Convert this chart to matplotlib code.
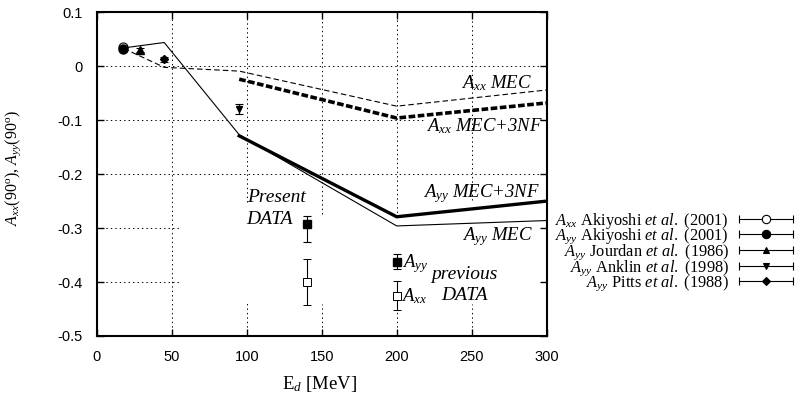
import matplotlib
matplotlib.use("Agg")
import matplotlib.pyplot as plt
from matplotlib.lines import Line2D
from matplotlib.legend_handler import HandlerBase

plt.rcParams['axes.unicode_minus'] = False
plt.rcParams['mathtext.fontset'] = 'custom'
plt.rcParams['mathtext.rm'] = 'Liberation Serif'
plt.rcParams['mathtext.it'] = 'Liberation Serif:italic'
plt.rcParams['mathtext.bf'] = 'Liberation Serif:bold'
plt.rcParams['lines.scale_dashes'] = False

# ---------------- data ----------------
e_mec = [18, 45, 95, 200, 300]
axx_mec = [0.033, -0.002, -0.009, -0.074, -0.044]
ayy_mec = [0.034, 0.044, -0.127, -0.296, -0.286]

e_3nf = [95, 200, 300]
axx_3nf = [-0.024, -0.096, -0.068]
ayy_3nf = [-0.129, -0.279, -0.250]

# present data (E_d = 140 MeV)
present_e = [140]
present_ayy = [-0.292]
present_ayy_err_lo = [0.033]
present_ayy_err_hi = [0.015]
present_axx = [-0.400]
present_axx_err = [0.043]

# previous data (E_d = 200 MeV)
previous_e = [200]
previous_ayy = [-0.362]
previous_ayy_err = [0.014]
previous_axx = [-0.425]
previous_axx_err = [0.027]

# low-energy data
akiyoshi_axx_e = [17.5]
akiyoshi_axx = [0.035]
akiyoshi_axx_err = [0.003]
akiyoshi_ayy_e = [17.5]
akiyoshi_ayy = [0.032]
akiyoshi_ayy_err = [0.003]
jourdan_e = [29]
jourdan_ayy = [0.030]
jourdan_err = [0.003]
anklin_e = [95]
anklin_ayy = [-0.079]
anklin_err = [0.009]
pitts_e = [45]
pitts_ayy = [0.013]
pitts_err = [0.005]

legend_labels = [
    r'$A_{xx}$ Akiyoshi $et\ al.$ (2001)',
    r'$A_{yy}$ Akiyoshi $et\ al.$ (2001)',
    r'$A_{yy}$ Jourdan $et\ al.$ (1986)',
    r'$A_{yy}$ Anklin $et\ al.$ (1998)',
    r'$A_{yy}$ Pitts $et\ al.$ (1988)',
]

x_ticks = [0, 50, 100, 150, 200, 250, 300]
y_ticks = [0.1, 0, -0.1, -0.2, -0.3, -0.4, -0.5]

# ---------------- figure ----------------
fig = plt.figure(figsize=(7.96, 3.98), dpi=100)
ax = fig.add_axes([0.1215, 0.1558, 0.5653, 0.8133])
ax.set_xlim(0, 300)
ax.set_ylim(-0.5, 0.1)

# partial dotted grid (as in the reference, hidden behind annotations)
gkw = dict(color='black', lw=0.7, linestyle=(0, (1, 2.2)), zorder=0.5)
ax.vlines(50, -0.5, 0.1, **gkw)
ax.vlines(100, -0.251, 0.1, **gkw)
ax.vlines(100, -0.5, -0.437, **gkw)
ax.vlines(150, -0.273, 0.1, **gkw)
ax.vlines(150, -0.5, -0.440, **gkw)
ax.vlines(200, -0.279, 0.1, **gkw)
ax.vlines(200, -0.5, -0.453, **gkw)
ax.vlines(250, -0.248, 0.1, **gkw)
ax.vlines(250, -0.5, -0.440, **gkw)
ax.hlines(0, 0, 300, **gkw)
ax.hlines(-0.1, 0, 219, **gkw)
ax.hlines(-0.2, 0, 300, **gkw)
ax.hlines(-0.3, 0, 55, **gkw)
ax.hlines(-0.4, 0, 55, **gkw)

# theory curves
ax.plot(e_mec, axx_mec, color='black', lw=0.8, dashes=(4.0, 2.2))
ax.plot(e_3nf, axx_3nf, color='black', lw=2.6, dashes=(4.8, 1.8))
ax.plot(e_mec, ayy_mec, color='black', lw=0.8)
ax.plot(e_3nf, ayy_3nf, color='black', lw=2.4)

ekw = dict(color='black', ecolor='black', elinewidth=0.8, capsize=3.2,
           capthick=0.8, linestyle='none', zorder=3)

ax.errorbar(present_e, present_ayy, yerr=[present_ayy_err_lo, present_ayy_err_hi],
            marker='s', ms=6.2, mfc='black', mec='black', **ekw)
ax.errorbar(present_e, present_axx, yerr=present_axx_err,
            marker='s', ms=6.0, mfc='white', mec='black', mew=0.7, **ekw)
ax.errorbar(previous_e, previous_ayy, yerr=previous_ayy_err,
            marker='s', ms=6.2, mfc='black', mec='black', **ekw)
ax.errorbar(previous_e, previous_axx, yerr=previous_axx_err,
            marker='s', ms=6.0, mfc='white', mec='black', mew=0.7, **ekw)

ax.errorbar(akiyoshi_axx_e, akiyoshi_axx, yerr=akiyoshi_axx_err,
            marker='o', ms=6.5, mfc='white', mec='black', mew=0.8, **ekw)
ax.errorbar(akiyoshi_ayy_e, akiyoshi_ayy, yerr=akiyoshi_ayy_err,
            marker='o', ms=6.5, mfc='black', mec='black', **ekw)
ax.errorbar(jourdan_e, jourdan_ayy, yerr=jourdan_err,
            marker='^', ms=5.5, mfc='black', mec='black', **ekw)
ax.errorbar(anklin_e, anklin_ayy, yerr=anklin_err,
            marker='v', ms=5.0, mfc='black', mec='black', **ekw)
ax.errorbar(pitts_e, pitts_ayy, yerr=pitts_err,
            marker='D', ms=4.5, mfc='black', mec='black', **ekw)

# annotations
serif = 'Liberation Serif'
tkw = dict(family=serif, style='italic', va='baseline')
ax.text(290, -0.041, r'$A_{xx}$ MEC', ha='right', fontsize=13.5, **tkw)
ax.text(297.5, -0.120, r'$A_{xx}$ MEC+3NF', ha='right', fontsize=13.5, **tkw)
ax.text(295.5, -0.2435, r'$A_{yy}$ MEC+3NF', ha='right', fontsize=13.5, **tkw)
ax.text(290.7, -0.322, r'$A_{yy}$ MEC', ha='right', fontsize=13.5, **tkw)
ax.text(100, -0.252, 'Present', ha='left', fontsize=14, **tkw)
ax.text(100, -0.2925, 'DATA', ha='left', fontsize=14, **tkw)
ax.text(245, -0.394, 'previous', ha='center', fontsize=14, **tkw)
ax.text(245, -0.434, 'DATA', ha='center', fontsize=14, **tkw)
ax.text(203.3, -0.372, r'$A_{yy}$', ha='left', fontsize=13.5, **tkw)
ax.text(203.0, -0.436, r'$A_{xx}$', ha='left', fontsize=13.5, **tkw)

# axes styling
for s in ax.spines.values():
    s.set_linewidth(1.5)
ax.set_xticks(x_ticks)
ax.set_yticks(y_ticks)
ax.set_xticklabels([f'{v:g}' for v in x_ticks])
ax.set_yticklabels([f'{v:g}' for v in y_ticks])
ax.tick_params(direction='in', length=5, width=1.0, top=True, right=True,
               labelsize=10.5)
ax.tick_params(axis='x', pad=10)
ax.tick_params(axis='y', pad=10)
for lab in ax.get_xticklabels() + ax.get_yticklabels():
    lab.set_family('Liberation Sans')

ax.set_xlabel(r'E$_{d}$ [MeV]', family=serif, fontsize=13.5, va='center')
ax.xaxis.set_label_coords(0.496, -0.148)
ax.set_ylabel(r'$A_{xx}(90^{\rm o})$, $A_{yy}(90^{\rm o})$', family=serif,
              fontsize=11.5, va='center')
ax.yaxis.set_label_coords(-0.186, 0.519)


# legend with gnuplot-like errorbar handles
class CapHandler(HandlerBase):
    def create_artists(self, legend, orig_handle, xdescent, ydescent,
                       width, height, fontsize, trans):
        x0 = -xdescent
        x1 = -xdescent + width
        yc = (height - ydescent) / 2.0
        line = Line2D([x0, x1], [yc, yc], color='black', lw=0.8)
        caps = Line2D([x0, x1], [yc, yc], ls='none', marker='|', ms=6,
                      mew=0.8, color='black')
        mk = Line2D([(x0 + x1) / 2.0], [yc], ls='none',
                    marker=orig_handle.get_marker(),
                    ms=orig_handle.get_markersize(),
                    mfc=orig_handle.get_markerfacecolor(),
                    mec='black', mew=0.8)
        for a in (line, caps, mk):
            a.set_transform(trans)
        return [line, caps, mk]


proxies = [
    Line2D([], [], marker='o', ms=6, mfc='white'),
    Line2D([], [], marker='o', ms=6, mfc='black'),
    Line2D([], [], marker='^', ms=5, mfc='black'),
    Line2D([], [], marker='v', ms=5, mfc='black'),
    Line2D([], [], marker='D', ms=4, mfc='black'),
]
leg = ax.legend(proxies, legend_labels, loc='center right',
                bbox_to_anchor=(793.3 / 796, 1 - 252 / 398),
                bbox_transform=fig.transFigure, frameon=False,
                markerfirst=False, handler_map={Line2D: CapHandler()},
                prop={'family': serif, 'size': 11.8}, handlelength=3.3,
                handletextpad=0.62, labelspacing=-0.24, borderpad=0,
                borderaxespad=0)

fig.savefig('out.png', dpi=100)
